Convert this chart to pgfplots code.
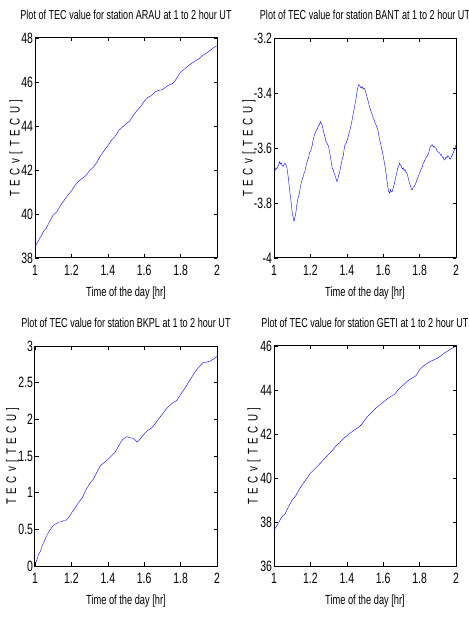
\documentclass[border=0pt]{standalone}
\usepackage{fontspec}
\setmainfont{Liberation Sans}[FakeStretch=0.7]
\usepackage{pgfplots}
\pgfplotsset{compat=1.18}

\definecolor{tecline}{rgb}{0,0,1}
\newcommand{\ys}{\hspace{1.8bp} }

\pgfplotsset{
  tecaxis/.style={
    scale only axis, width=182bp, height=220bp, anchor=south west,
    xmin=1, xmax=2, xtick={1,1.2,1.4,1.6,1.8,2},
    tick align=inside, major tick length=3.5bp,
    axis line style={line width=1bp},
    every tick/.style={black, line width=0.6bp},
    /pgf/number format/assume math mode=true,
    /pgf/number format/fixed,
    /pgf/number format/precision=2,
    tick label style={font=\fontsize{15}{17}\selectfont},
    xticklabel style={yshift=-4bp},
    yticklabel style={xshift=1.5bp},
    title style={font=\fontsize{13}{15}\selectfont,
      at={(axis description cs:0.5,1.059)}, anchor=base},
    xlabel={Time of the day [hr]},
    xlabel style={font=\fontsize{13.3}{15}\selectfont,
      at={(axis description cs:0.5,-0.173)}, anchor=base},
    ylabel={T\ys E\ys C\ys v\ys [\ys T\ys E\ys C\ys U\ys ]},
    ylabel style={font=\fontsize{14}{16}\selectfont, anchor=center},
    cycle list={{tecline, line width=1.1bp, no marks}},
  }
}

\begin{document}
\begin{tikzpicture}
\useasboundingbox (0,0) rectangle (469bp,617bp);

% ARAU
\begin{axis}[tecaxis, at={(35bp,359bp)},
  ymin=38, ymax=48, ytick={38,40,...,48},
  title={Plot of TEC value for station ARAU at 1 to 2 hour UT},
  ylabel style={at={(axis description cs:-0.104,0.5)}}]
\addplot coordinates {
(1.00,38.50) (1.02,38.80) (1.04,39.10) (1.05,39.25) (1.06,39.33) (1.08,39.65)
(1.10,39.95) (1.12,40.10) (1.14,40.38) (1.16,40.62) (1.18,40.85) (1.20,41.05)
(1.22,41.30) (1.24,41.50) (1.26,41.62) (1.28,41.75) (1.30,41.98) (1.32,42.12)
(1.34,42.35) (1.36,42.65) (1.38,42.88) (1.40,43.10) (1.42,43.35) (1.44,43.52)
(1.46,43.80) (1.48,43.95) (1.50,44.10) (1.52,44.22) (1.54,44.48) (1.56,44.70)
(1.58,44.88) (1.60,45.12) (1.62,45.30) (1.64,45.38) (1.66,45.55) (1.68,45.62)
(1.70,45.65) (1.72,45.78) (1.74,45.88) (1.76,45.95) (1.78,46.18) (1.80,46.45)
(1.82,46.58) (1.84,46.72) (1.86,46.85) (1.88,46.95) (1.90,47.05) (1.92,47.20)
(1.94,47.30) (1.96,47.42) (1.98,47.55) (2.00,47.65)
};
\end{axis}

% BANT
\begin{axis}[tecaxis, at={(274bp,359bp)},
  ymin=-4, ymax=-3.2, ytick={-4,-3.8,-3.6,-3.4,-3.2},
  title={Plot of TEC value for station BANT at 1 to 2 hour UT},
  ylabel style={at={(axis description cs:-0.137,0.5)}}]
\addplot coordinates {
(1.000,-3.679) (1.005,-3.684) (1.010,-3.673) (1.015,-3.676) (1.020,-3.668) (1.025,-3.662)
(1.030,-3.650) (1.035,-3.658) (1.040,-3.654) (1.045,-3.664) (1.050,-3.667) (1.055,-3.660)
(1.060,-3.655) (1.065,-3.662) (1.070,-3.667) (1.075,-3.690) (1.080,-3.715) (1.085,-3.748)
(1.090,-3.776) (1.095,-3.800) (1.100,-3.836) (1.105,-3.850) (1.110,-3.867) (1.115,-3.852)
(1.120,-3.836) (1.125,-3.808) (1.130,-3.788) (1.135,-3.776) (1.140,-3.764) (1.145,-3.740)
(1.150,-3.727) (1.155,-3.714) (1.160,-3.705) (1.165,-3.692) (1.170,-3.685) (1.175,-3.668)
(1.180,-3.655) (1.185,-3.644) (1.190,-3.636) (1.195,-3.617) (1.200,-3.612) (1.205,-3.604)
(1.210,-3.590) (1.215,-3.570) (1.220,-3.558) (1.225,-3.548) (1.230,-3.540) (1.235,-3.534)
(1.240,-3.527) (1.245,-3.518) (1.250,-3.515) (1.255,-3.505) (1.260,-3.509) (1.265,-3.518)
(1.270,-3.533) (1.275,-3.548) (1.280,-3.560) (1.285,-3.575) (1.290,-3.582) (1.295,-3.588)
(1.300,-3.594) (1.305,-3.615) (1.310,-3.630) (1.315,-3.655) (1.320,-3.673) (1.325,-3.680)
(1.330,-3.691) (1.335,-3.700) (1.340,-3.709) (1.345,-3.722) (1.350,-3.715) (1.355,-3.700)
(1.360,-3.691) (1.365,-3.672) (1.370,-3.655) (1.375,-3.640) (1.380,-3.630) (1.385,-3.606)
(1.390,-3.588) (1.395,-3.584) (1.400,-3.576) (1.405,-3.565) (1.410,-3.552) (1.415,-3.540)
(1.420,-3.527) (1.425,-3.512) (1.430,-3.495) (1.435,-3.476) (1.440,-3.460) (1.445,-3.440)
(1.450,-3.424) (1.455,-3.400) (1.460,-3.382) (1.465,-3.370) (1.470,-3.373) (1.475,-3.378)
(1.480,-3.382) (1.485,-3.377) (1.490,-3.385) (1.495,-3.383) (1.500,-3.388) (1.505,-3.400)
(1.510,-3.412) (1.515,-3.425) (1.520,-3.436) (1.525,-3.452) (1.530,-3.460) (1.535,-3.470)
(1.540,-3.478) (1.545,-3.492) (1.550,-3.497) (1.555,-3.508) (1.560,-3.515) (1.565,-3.524)
(1.570,-3.533) (1.575,-3.550) (1.580,-3.570) (1.585,-3.580) (1.590,-3.600) (1.595,-3.612)
(1.600,-3.630) (1.605,-3.648) (1.610,-3.667) (1.615,-3.690) (1.620,-3.715) (1.625,-3.740)
(1.630,-3.758) (1.635,-3.764) (1.640,-3.752) (1.645,-3.760) (1.650,-3.758) (1.655,-3.746)
(1.660,-3.733) (1.665,-3.718) (1.670,-3.703) (1.675,-3.688) (1.680,-3.673) (1.685,-3.665)
(1.690,-3.655) (1.695,-3.662) (1.700,-3.667) (1.705,-3.676) (1.710,-3.672) (1.715,-3.682)
(1.720,-3.679) (1.725,-3.688) (1.730,-3.691) (1.735,-3.702) (1.740,-3.715) (1.745,-3.728)
(1.750,-3.739) (1.755,-3.750) (1.760,-3.752) (1.765,-3.742) (1.770,-3.739) (1.775,-3.734)
(1.780,-3.727) (1.785,-3.716) (1.790,-3.708) (1.795,-3.700) (1.800,-3.691) (1.805,-3.684)
(1.810,-3.675) (1.815,-3.668) (1.820,-3.655) (1.825,-3.650) (1.830,-3.642) (1.835,-3.636)
(1.840,-3.630) (1.845,-3.626) (1.850,-3.618) (1.855,-3.603) (1.860,-3.594) (1.865,-3.590)
(1.870,-3.588) (1.875,-3.596) (1.880,-3.594) (1.885,-3.600) (1.890,-3.600) (1.895,-3.610)
(1.900,-3.612) (1.905,-3.616) (1.910,-3.618) (1.915,-3.626) (1.920,-3.624) (1.925,-3.634)
(1.930,-3.633) (1.935,-3.644) (1.940,-3.642) (1.945,-3.632) (1.950,-3.636) (1.955,-3.628)
(1.960,-3.630) (1.965,-3.638) (1.970,-3.640) (1.975,-3.632) (1.980,-3.625) (1.985,-3.618)
(1.990,-3.610) (1.995,-3.600) (2.000,-3.588)
};
\end{axis}

% BKPL
\begin{axis}[tecaxis, at={(35bp,51bp)},
  ymin=0, ymax=3, ytick={0,0.5,...,3},
  title={Plot of TEC value for station BKPL at 1 to 2 hour UT},
  ylabel style={at={(axis description cs:-0.124,0.5)}}]
\addplot coordinates {
(1.00,0.02) (1.01,0.08) (1.02,0.16) (1.03,0.20) (1.04,0.28) (1.05,0.33)
(1.06,0.39) (1.07,0.44) (1.08,0.48) (1.09,0.52) (1.10,0.55) (1.11,0.57)
(1.12,0.58) (1.13,0.60) (1.14,0.60) (1.15,0.61) (1.16,0.62) (1.17,0.62)
(1.18,0.65) (1.19,0.68) (1.20,0.72) (1.22,0.79) (1.24,0.87) (1.26,0.93)
(1.28,1.04) (1.30,1.12) (1.32,1.18) (1.34,1.28) (1.36,1.37) (1.38,1.41)
(1.40,1.45) (1.42,1.50) (1.44,1.55) (1.46,1.64) (1.48,1.72) (1.50,1.76)
(1.51,1.76) (1.52,1.75) (1.54,1.74) (1.55,1.72) (1.56,1.69) (1.57,1.71)
(1.58,1.74) (1.60,1.80) (1.62,1.85) (1.64,1.88) (1.66,1.94) (1.68,2.01)
(1.70,2.07) (1.72,2.14) (1.74,2.19) (1.76,2.23) (1.78,2.26) (1.80,2.34)
(1.82,2.41) (1.84,2.49) (1.86,2.57) (1.88,2.65) (1.90,2.71) (1.92,2.77)
(1.94,2.78) (1.96,2.79) (1.98,2.82) (2.00,2.86)
};
\end{axis}

% GETI
\begin{axis}[tecaxis, at={(274bp,51bp)},
  ymin=36, ymax=46, ytick={36,38,...,46},
  title={Plot of TEC value for station GETI at 1 to 2 hour UT},
  ylabel style={at={(axis description cs:-0.110,0.5)}}]
\addplot coordinates {
(1.00,37.62) (1.02,37.90) (1.04,38.18) (1.05,38.30) (1.06,38.35) (1.08,38.70)
(1.10,39.00) (1.12,39.20) (1.14,39.50) (1.16,39.75) (1.18,39.98) (1.20,40.22)
(1.22,40.38) (1.24,40.55) (1.26,40.72) (1.28,40.90) (1.30,41.08) (1.32,41.25)
(1.34,41.45) (1.36,41.60) (1.38,41.78) (1.40,41.92) (1.42,42.05) (1.44,42.18)
(1.46,42.28) (1.48,42.42) (1.50,42.65) (1.52,42.85) (1.54,43.00) (1.56,43.18)
(1.58,43.32) (1.60,43.45) (1.62,43.58) (1.64,43.70) (1.66,43.78) (1.68,43.98)
(1.70,44.15) (1.72,44.30) (1.74,44.45) (1.76,44.55) (1.78,44.65) (1.80,44.92)
(1.82,45.08) (1.84,45.20) (1.86,45.30) (1.88,45.38) (1.90,45.45) (1.92,45.58)
(1.94,45.70) (1.96,45.80) (1.98,45.90) (2.00,46.00)
};
\end{axis}
\end{tikzpicture}
\end{document}
